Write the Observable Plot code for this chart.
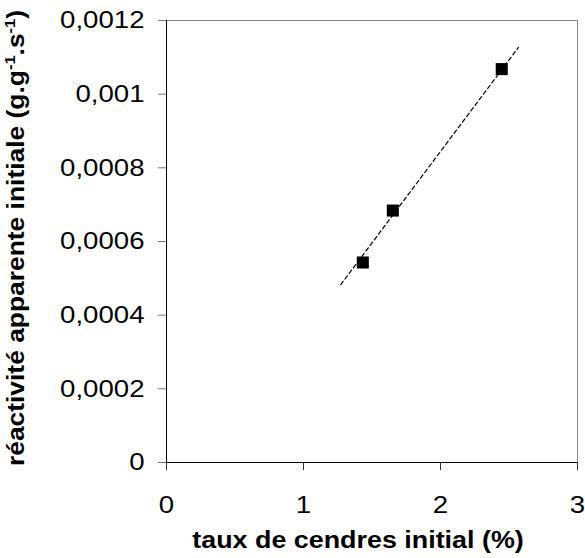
<!DOCTYPE html>
<html>
<head>
<meta charset="utf-8">
<script src="https://cdn.jsdelivr.net/npm/d3@7"></script>
<script src="https://cdn.jsdelivr.net/npm/@observablehq/plot@0.6"></script>
<style>
  html, body { margin: 0; padding: 0; background: #fff; }
  #chart svg { display: block; font-family: "Liberation Sans", Arial, sans-serif; }
</style>
</head>
<body>
<div id="chart"></div>
<script>
// Data
const ashContent = [1.433, 1.652, 2.447];          // taux de cendres initial (%)
const reactivity = [0.000543, 0.000684, 0.001068]; // réactivité apparente initiale
const trendX = [1.272, 2.569];                     // dashed trend line ends
const trendY = [0.000483, 0.001127];
const xTicks = [0, 1, 2, 3];
const yTicks = [0, 0.0002, 0.0004, 0.0006, 0.0008, 0.001, 0.0012];
const yTickLabels = ["0", "0,0002", "0,0004", "0,0006", "0,0008", "0,001", "0,0012"];
const xTitle = "taux de cendres initial (%)";
const yTitleParts = ["réactivité apparente initiale (g.g", "-1", ".s", "-1", ")"];

const points = ashContent.map((x, i) => ({x, y: reactivity[i]}));
const trend = trendX.map((x, i) => ({x, y: trendY[i]}));
const yLabelOf = v => yTickLabels[yTicks.indexOf(v)];

const plot = Plot.plot({
  width: 585,
  height: 558,
  marginLeft: 166,
  marginRight: 8,
  marginTop: 20,
  marginBottom: 96,
  style: {fontSize: "24px", fontFamily: "Liberation Sans, Arial, sans-serif", color: "#000", background: "#fff"},
  x: {domain: [0, 3]},
  y: {domain: [0, 0.0012]},
  marks: [
    Plot.frame({stroke: "#8a8a8a", strokeWidth: 1}),
    Plot.axisX({ticks: xTicks, tickSize: 8, tickPadding: 25, tickFormat: d => String(d), label: null, stroke: "#333"}),
    Plot.axisY({ticks: yTicks, tickSize: 8, tickPadding: 14, tickFormat: yLabelOf, label: null, stroke: "#777"}),
    Plot.ruleX([0], {stroke: "#000", strokeWidth: 1}),
    Plot.ruleY([0], {stroke: "#000", strokeWidth: 1}),
    Plot.line(trend, {x: "x", y: "y", stroke: "#000", strokeWidth: 1.2, strokeDasharray: "4,3"}),
    Plot.dot(points, {x: "x", y: "y", symbol: "square", r: 6.8, fill: "#000", stroke: "none"})
  ]
});

document.getElementById("chart").appendChild(plot);
const svg = d3.select(plot);

// widen tick labels slightly like the reference's typeface
svg.selectAll('g[aria-label="x-axis tick label"] text, g[aria-label="y-axis tick label"] text').each(function() {
  const t = this.getAttribute("transform") || "";
  this.setAttribute("transform", t + " scale(1.15,1)");
});

// x axis title
svg.append("text")
  .attr("transform", "translate(358,548) scale(1.12,1)")
  .attr("text-anchor", "middle")
  .attr("font-weight", "bold")
  .attr("font-size", 24)
  .attr("fill", "#000")
  .text(xTitle);

// y axis title with superscripts
const yt = svg.append("text")
  .attr("transform", "translate(24,238) rotate(-90) scale(1.1,1)")
  .attr("text-anchor", "middle")
  .attr("font-weight", "bold")
  .attr("font-size", 24)
  .attr("fill", "#000");
yTitleParts.forEach((p, i) => {
  const ts = yt.append("tspan").text(p);
  if (i % 2 === 1) ts.attr("font-size", 15).attr("dy", -9);
  else if (i > 0) ts.attr("dy", 9);
});
</script>
</body>
</html>
